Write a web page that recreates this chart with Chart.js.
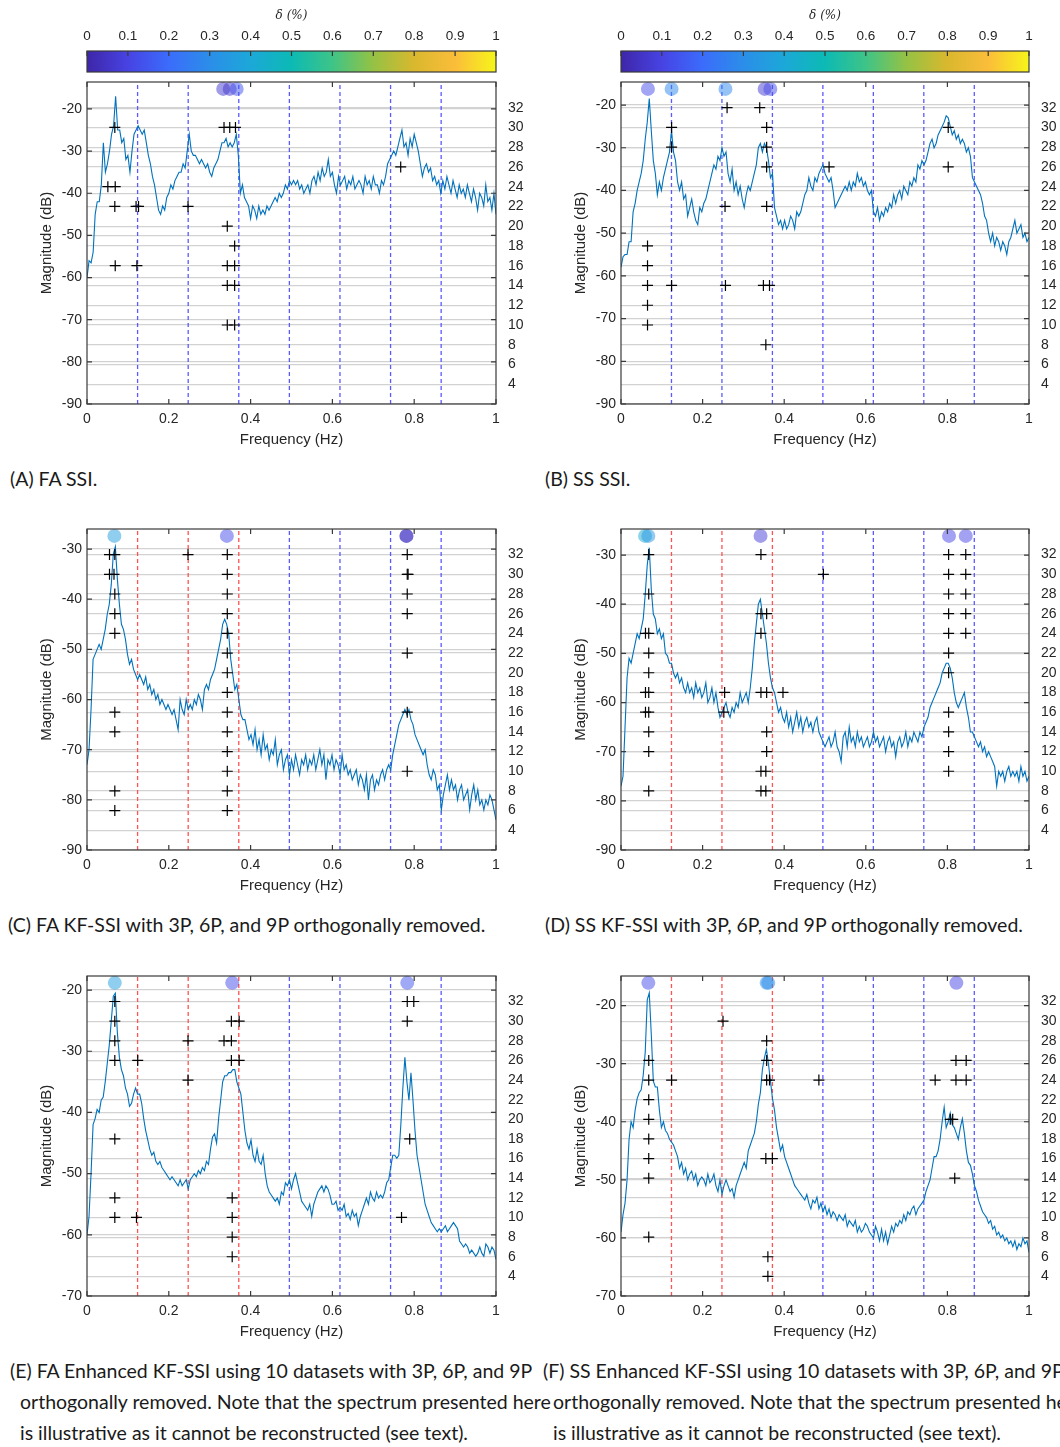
<!DOCTYPE html>
<html>
<head>
<meta charset="utf-8">
<script src="https://cdn.jsdelivr.net/npm/chart.js@4.4.0/dist/chart.umd.min.js"></script>
<style>
  html, body { margin: 0; padding: 0; background: #fff; }
  body { width: 1060px; height: 1447px; position: relative; overflow: hidden; }
  canvas { position: absolute; }
  .cap { position: absolute; font-family: Lato, 'Open Sans', sans-serif; font-size: 19.5px; line-height: 31px; color: #1a1a1a; white-space: nowrap; }
  .cap.hang { padding-left: 10px; text-indent: -10px; }
</style>
</head>
<body>
<canvas id="cbarA" width="506" height="73" style="left:30px;top:0px"></canvas>
<canvas id="cbarB" width="505" height="73" style="left:564px;top:0px"></canvas>
<canvas id="panelA" width="506" height="377" style="left:30px;top:75px"></canvas>
<canvas id="panelB" width="505" height="377" style="left:564px;top:75px"></canvas>
<canvas id="panelC" width="506" height="376" style="left:30px;top:522px"></canvas>
<canvas id="panelD" width="505" height="376" style="left:564px;top:522px"></canvas>
<canvas id="panelE" width="506" height="375" style="left:30px;top:969px"></canvas>
<canvas id="panelF" width="505" height="375" style="left:564px;top:969px"></canvas>

<div class="cap" style="left:10px;top:463px">(A) FA SSI.</div>
<div class="cap" style="left:545px;top:463px">(B) SS SSI.</div>
<div class="cap" style="left:8px;top:909px">(C) FA KF-SSI with 3P, 6P, and 9P orthogonally removed.</div>
<div class="cap" style="left:545px;top:909px">(D) SS KF-SSI with 3P, 6P, and 9P orthogonally removed.</div>
<div class="cap hang" style="left:10px;top:1355px">(E) FA Enhanced KF-SSI using 10 datasets with 3P, 6P, and 9P<br>orthogonally removed. Note that the spectrum presented here<br>is illustrative as it cannot be reconstructed (see text).</div>
<div class="cap hang" style="left:543px;top:1355px">(F) SS Enhanced KF-SSI using 10 datasets with 3P, 6P, and 9P<br>orthogonally removed. Note that the spectrum presented here<br>is illustrative as it cannot be reconstructed (see text).</div>

<script>
// ── Data ─────────────────────────────────────────────────────
// rotor harmonics (3P, 6P, ... 21P) in Hz
const harmonics = [0.1237, 0.2474, 0.3711, 0.4948, 0.6185, 0.7422, 0.8659];
const freqTicks = [0, 0.2, 0.4, 0.6, 0.8, 1];
const orderTicks = [4, 6, 8, 10, 12, 14, 16, 18, 20, 22, 24, 26, 28, 30, 32];
const cbarTicks = [0, 0.1, 0.2, 0.3, 0.4, 0.5, 0.6, 0.7, 0.8, 0.9, 1];
const dbTicksAB = [-90, -80, -70, -60, -50, -40, -30, -20];
const dbTicksCD = [-90, -80, -70, -60, -50, -40, -30];
const dbTicksEF = [-70, -60, -50, -40, -30, -20];
const orderMin = 2, orderMax = 34.6, circleLevel = 33.9;

// spectra (dB), evenly spaced from 0 to 1 Hz
const specA = [
-60,-56,-56.5,-54,-45,-42,-42,-38,-28,-35, -33,-30,-26,-24,-17,-25,-25,-28,-27,-32,
-31,-35,-30,-26,-25,-24,-25,-26,-25,-28, -31,-33,-36,-38,-41,-44,-45,-43,-44,-41,
-40,-38,-39,-37,-36,-35,-35,-33,-34,-30, -26,-30,-31,-31,-32,-33,-32,-33,-34,-33,
-35,-36,-34,-33,-32,-30,-28,-28,-27,-29, -28,-29,-28,-26,-31,-40,-38,-41,-42,-43,
-46,-43,-44,-46,-43,-45,-44,-45,-43,-44, -43,-42,-41,-42,-40,-41,-40,-38,-39,-37,
-38,-37,-38,-37,-39,-38,-40,-39,-38,-40, -37,-36,-38,-35,-37,-34,-36,-35,-32,-36,
-35,-38,-40,-36,-38,-37,-36,-39,-37,-38, -36,-39,-38,-37,-38,-40,-36,-38,-37,-39,
-36,-38,-38,-40,-37,-38,-36,-33,-32,-31, -30,-31,-29,-27,-25,-29,-28,-31,-27,-29,
-26,-28,-30,-33,-36,-34,-33,-35,-34,-37, -36,-38,-37,-40,-37,-39,-36,-38,-40,-37,
-39,-41,-38,-40,-39,-41,-38,-40,-42,-39, -41,-44,-40,-41,-43,-38,-42,-41,-44,-40,
-45];
const specB = [
-58,-55.5,-55,-55,-52,-52,-45,-43,-40,-38, -36,-33,-28,-24,-18.5,-26,-33,-36,-41,-38,
-40,-37,-35,-33,-31,-26,-31,-33,-38,-40, -38,-42,-41,-46,-44,-42,-45,-47,-48,-44,
-45,-43,-42,-40,-38,-36,-34,-35,-32,-33, -30,-32,-31,-36,-38,-35,-40,-38,-41,-39,
-42,-44,-41,-39,-40,-38,-36,-34,-30,-29, -31,-29,-30,-33,-37,-36,-44,-46,-48,-47,
-49,-47,-49,-48,-46,-47,-49,-45,-46,-45, -43,-41,-40,-37,-39,-40,-37,-38,-36,-35,
-34,-36,-37,-38,-37,-40,-44,-43,-42,-41, -40,-39,-40,-38,-40,-38,-39,-36,-38,-37,
-39,-38,-40,-41,-40,-45,-46,-44,-47,-45, -46,-44,-45,-43,-44,-41,-43,-41,-40,-42,
-39,-40,-41,-38,-39,-37,-38,-34,-35,-33, -34,-33,-31,-29,-28,-30,-29,-27,-26,-25,
-24,-22.5,-23,-25,-27,-26,-28,-27,-29,-28, -29,-31,-30,-32,-37,-38,-39,-40,-41,-43,
-46,-47,-50,-52,-50,-53,-51,-52,-54,-52, -53,-55,-52,-51,-49,-47,-50,-49,-48,-51,
-50,-52,-51];
const specC = [
-73,-70,-62,-52,-51,-50,-49,-50,-48,-46, -43,-41,-37,-31,-29.5,-36,-41,-45,-46,-48,
-51,-53,-52,-54,-55,-56,-55,-56,-57,-55.5, -58,-57,-59,-58,-60,-59,-61,-60,-61,-62,
-61,-62,-63,-62,-64,-66,-60,-62,-63,-60, -62,-61,-62,-60,-61,-59,-60,-62,-58,-57,
-58,-56,-55,-54,-52,-50,-48,-45,-44,-45, -47,-52,-55,-58,-57,-60,-63,-64,-64,-66,
-68,-67,-69,-66,-70,-68,-71,-67,-70,-69, -72,-70,-71,-68,-73,-71,-70,-74,-72,-71,
-75,-72,-74,-71,-73,-75,-72,-73,-71,-74, -72,-73,-71,-74,-72,-70,-73,-71,-76,-72,
-73,-71,-74,-72,-73,-75,-71,-74,-73,-75, -74,-76,-75,-74,-77,-75,-76,-78,-75,-80,
-76,-75,-78,-76,-77,-75,-74,-76,-74,-73, -74,-71,-69,-67,-65,-64,-63,-62,-63,-62,
-64,-65,-67,-68,-69,-70,-71,-70,-73,-75, -76,-74,-75,-78,-77,-82,-79,-77,-75,-78,
-76,-78,-77,-80,-78,-77,-80,-79,-78,-82, -79,-77,-80,-78,-81,-80,-82,-80,-81,-79,
-80,-82,-84];
const specD = [
-77,-75,-65,-55,-51,-52,-50,-48,-46,-47, -45,-43,-38,-32,-28.5,-37,-42,-43,-46,-45,
-47,-46,-50,-50.5,-52,-52,-54,-55,-54,-56, -55,-57,-58,-56,-58,-57,-59,-56,-58,-57,
-59,-58,-56,-60,-59,-57,-60,-58,-61,-63, -62,-61,-60,-62,-63,-61,-62,-60,-61,-58,
-60,-59,-58,-60,-57,-53,-48,-44,-40,-39, -42,-45,-48,-52,-55,-57,-58,-60,-62,-61,
-63,-64,-62,-65,-63,-66,-64,-62,-65,-63, -66,-64,-63,-65,-64,-66,-64,-63,-66,-67,
-68,-69,-68,-67,-69,-68,-66,-69,-70,-72, -67,-66,-69,-65,-68,-67,-69,-66,-68,-67,
-69,-68,-67,-69,-68,-66,-68,-67,-69,-68, -67,-70,-68,-67,-69,-68,-71,-68,-67,-69,
-68,-66,-69,-67,-68,-66,-67,-68,-66,-67, -65,-64,-63,-61,-60,-59,-58,-57,-56,-54,
-53,-52,-52,-53,-55,-58,-60,-61,-60,-59, -58,-61,-63,-66,-66,-67,-68,-69,-68,-70,
-69,-71,-70,-71,-72,-73,-77,-74,-75,-74, -76,-74,-73,-75,-74,-75,-74,-76,-73,-75,
-74,-76,-75];
const specE = [
-60,-57,-50,-42,-41,-39.5,-40,-38,-37.5,-35, -32,-29,-25,-21,-20.5,-27,-31,-33,-34,-36,
-37,-39,-38.5,-37,-36,-37,-37,-38.5,-41,-43, -44.5,-46,-47,-46.5,-48,-48.5,-48,-49,-49.5,-50,
-50.5,-51,-50.5,-51,-51.5,-52,-51,-52,-51.5,-51, -52.5,-51,-50.5,-50,-50.5,-49.5,-50,-49,-49.5,-48,
-48.5,-46,-44,-43.5,-45,-41,-38,-35,-34,-34, -33.5,-33.5,-33,-33,-35,-36,-37,-40,-43,-45,
-46,-44.5,-47,-48,-46,-48,-48.5,-47,-50,-52, -53,-53.5,-54,-54.5,-54,-55,-53,-53.5,-51.5,-52,
-51,-52.5,-51,-50,-51.5,-53,-54.5,-55,-55.5,-56, -55,-57,-55,-54,-53,-52.5,-52,-53,-52,-52.5,
-53.5,-55,-55,-54.5,-56,-55.5,-56,-55,-57,-56.5, -57.5,-56,-57,-56.5,-58.5,-57,-56,-55,-54,-55,
-53,-54,-54.5,-53,-54,-53.5,-54,-53,-51.5,-51, -49,-47,-47,-47.5,-47,-42,-36,-31,-35,-38,
-33.5,-38,-43,-47,-49,-51,-53,-55,-56,-57, -58,-58.5,-59,-59.5,-59,-59.5,-59,-58.5,-59.5,-59,
-58.5,-58,-58.5,-59,-61,-61.5,-62,-61.5,-62,-63, -62.5,-63,-63.5,-63,-62,-63,-63.5,-61.5,-62,-63,
-62,-62.5,-64];
const specF = [
-59,-56,-54,-50,-43,-40,-41,-38,-36,-35, -34.5,-32,-28,-19,-17.8,-25,-33,-34,-34,-38,
-41,-40,-41.5,-42,-43,-43.5,-44,-45,-46,-48, -47,-49,-48,-50,-49,-48.5,-50,-49,-51,-50,
-49.5,-50,-51,-49,-50.5,-50,-49,-51,-52,-50, -52.5,-51,-50,-51,-52,-51.5,-53,-51,-50,-49,
-48,-47,-48,-45,-44,-43,-42,-40,-37,-35, -31,-29,-27.5,-30,-33,-36,-38,-41,-43,-45,
-44,-46,-47,-48,-49,-50,-51,-51.5,-52,-52.5, -53,-53.5,-52.5,-54,-55,-53.5,-54,-53,-55,-54,
-55.5,-54.5,-56,-55,-56.5,-55.5,-56,-57,-56,-56.5, -57,-56,-58,-57,-57.5,-58,-57,-59,-58,-59,
-58.5,-57.5,-58,-59,-59.5,-60,-58,-59,-60.5,-58.5, -60.5,-59,-61,-59.5,-58,-59,-57.5,-58,-57,-57.5,
-56,-57,-55.5,-56,-55,-54.5,-56,-55,-54.5,-54, -53.5,-52,-51,-50,-48,-46,-46,-45,-43,-40,
-37.5,-41,-40,-38.5,-40.5,-41,-42,-43,-41,-39.5, -42,-45,-47,-47.5,-49,-51,-52,-53.5,-54.5,-55.5,
-56,-56.5,-57.5,-57,-58.5,-58,-59.5,-59,-60,-59.5, -60.5,-60,-61,-60.5,-61.5,-60.5,-62,-61,-61.5,-60,
-61,-60.5,-62.5];

// stabilised poles: frequency (Hz) and model order
const stabA_f = [0.068,0.335,0.349,0.363,0.767,0.051,0.069,0.068,0.120,0.126,0.247,0.343,0.361,0.069,0.122,0.343,0.361,0.343,0.361,0.343,0.361];
const stabA_n = [30,30,30,30,26,24,24,22,22,22,22,20,18,16,16,16,16,14,14,10,10];
const stabB_f = [0.260,0.340, 0.124,0.357,0.802, 0.124,0.357, 0.357,0.510,0.802, 0.255,0.357, 0.065, 0.065, 0.065,0.124,0.256,0.349,0.364, 0.065, 0.065, 0.355];
const stabB_n = [32,32, 30,30,30, 28,28, 26,26,26, 22,22, 18, 16, 14,14,14,14,14, 12, 10, 8];
const stabC_f = [0.055,0.068,0.247,0.343,0.783, 0.055,0.066,0.343,0.783,0.785, 0.068,0.343,0.783, 0.068,0.343,0.783, 0.068,0.343, 0.343,0.783, 0.343, 0.343, 0.068,0.343,0.783, 0.068,0.343, 0.343, 0.343,0.783, 0.068,0.343, 0.068,0.343];
const stabC_n = [32,32,32,32,32, 30,30,30,30,30, 28,28,28, 26,26,26, 24,24, 22,22, 20, 18, 16,16,16, 14,14, 12, 10,10, 8,8, 6,6];
const stabD_f = [0.068,0.343,0.803,0.845, 0.496,0.803,0.845, 0.068,0.803,0.845, 0.343,0.357,0.803,0.845, 0.060,0.068,0.343,0.803,0.845, 0.068,0.803, 0.068,0.803, 0.060,0.068,0.254,0.343,0.357,0.397, 0.060,0.068,0.252,0.803, 0.068,0.357,0.803, 0.068,0.357,0.803, 0.343,0.355,0.803, 0.068,0.343,0.355];
const stabD_n = [32,32,32,32, 30,30,30, 28,28,28, 26,26,26,26, 24,24,24,24,24, 22,22, 20,20, 18,18,18,18,18,18, 16,16,16,16, 14,14,14, 12,12,12, 10,10,10, 8,8,8];
const stabE_f = [0.068,0.783,0.799, 0.068,0.353,0.372,0.783, 0.068,0.247,0.335,0.353, 0.068,0.124,0.353,0.372, 0.247, 0.068,0.789, 0.068,0.355, 0.068,0.121,0.355,0.769, 0.355, 0.355];
const stabE_n = [32,32,32, 30,30,30,30, 28,28,28,28, 26,26,26,26, 24, 18,18, 12,12, 10,10,10,10, 8, 6];
const stabF_f = [0.250, 0.357, 0.068,0.357,0.821,0.846, 0.068,0.124,0.357,0.364,0.485,0.770,0.821,0.846, 0.068, 0.068,0.807,0.813, 0.068, 0.068,0.355,0.371, 0.068,0.818, 0.068, 0.360, 0.360];
const stabF_n = [30, 28, 26,26,26,26, 24,24,24,24,24,24,24,24, 22, 20,20,20, 18, 16,16,16, 14,14, 8, 6, 4];

// identified modes: frequency (Hz) and damping ratio (%)
const modeA_f = [0.333, 0.349, 0.366];
const modeA_d = [0.07, 0.06, 0.14];
const modeB_f = [0.066, 0.124, 0.256, 0.352, 0.366];
const modeB_d = [0.12, 0.28, 0.28, 0.07, 0.12];
const modeC_f = [0.067, 0.342, 0.781, 0.781];
const modeC_d = [0.36, 0.12, 0.05, 0.05];
const modeD_f = [0.059, 0.067, 0.342, 0.804, 0.845];
const modeD_d = [0.42, 0.33, 0.08, 0.1, 0.1];
const modeE_f = [0.068, 0.355, 0.783];
const modeE_d = [0.36, 0.12, 0.14];
const modeF_f = [0.067, 0.357, 0.361, 0.822];
const modeF_d = [0.12, 0.3, 0.3, 0.1];

// ── Style ────────────────────────────────────────────────────
const parula = ['#3e26a8','#4743e3','#3b6cfb','#2b8ee9','#1ca8d8','#0cbab4','#3ec487','#95c244','#d9b82e','#fbbd3a','#f6f51a'];
const ink = '#262626';
const gridGray = '#d2d2d2';
const tickFont = { family: "'Liberation Sans', Arial, sans-serif", size: 14 };
const titleFont = { family: "'Liberation Sans', Arial, sans-serif", size: 15 };

function hexRgb(h) {
  return [1, 3, 5].map(i => parseInt(h.slice(i, i + 2), 16));
}
function parulaAt(t, alpha) {
  const s = Math.max(0, Math.min(1, t)) * (parula.length - 1);
  const i = Math.min(Math.floor(s), parula.length - 2);
  const a = hexRgb(parula[i]), b = hexRgb(parula[i + 1]);
  const c = a.map((v, k) => Math.round(v + (b[k] - v) * (s - i)));
  return `rgba(${c[0]},${c[1]},${c[2]},${alpha})`;
}

// MATLAB-like box with inward ticks
const matlabBox = {
  id: 'matlabBox',
  afterDatasetsDraw(chart, args, opts) {
    const { ctx, chartArea: a, scales } = chart;
    const len = 5;
    ctx.save();
    ctx.strokeStyle = '#3a3a3a';
    ctx.lineWidth = 1.2;
    ctx.beginPath();
    scales.x.ticks.forEach(t => {
      const px = scales.x.getPixelForValue(t.value);
      ctx.moveTo(px, a.top); ctx.lineTo(px, a.top + len);
      if (!opts.topOnly) { ctx.moveTo(px, a.bottom); ctx.lineTo(px, a.bottom - len); }
    });
    if (!opts.topOnly) {
      scales.y.ticks.forEach(t => {
        const py = scales.y.getPixelForValue(t.value);
        ctx.moveTo(a.left, py); ctx.lineTo(a.left + len, py);
        ctx.moveTo(a.right, py); ctx.lineTo(a.right - len, py);
      });
    }
    ctx.stroke();
    ctx.strokeRect(a.left, a.top, a.right - a.left, a.bottom - a.top);
    ctx.restore();
  }
};

const fixTicks = vals => scale => { scale.ticks = vals.map(v => ({ value: v })); };
const plainLabel = v => String(v);
// keep the plot box where it is: no extra room for half-labels at the ends
const noEndPadding = extra => s => {
  s.paddingTop = 0; s.paddingBottom = 0; s.paddingLeft = 0; s.paddingRight = 0;
  extra(s);
};

// ── Colour bar ───────────────────────────────────────────────
function colourBar(id) {
  new Chart(document.getElementById(id), {
    type: 'bar',
    data: {
      labels: [''],
      datasets: [{
        data: [[cbarTicks[0], cbarTicks[cbarTicks.length - 1]]],
        barPercentage: 1, categoryPercentage: 1, borderWidth: 0,
        backgroundColor: c => {
          const a = c.chart.chartArea;
          if (!a) return parula[5];
          const g = c.chart.ctx.createLinearGradient(a.left, 0, a.right, 0);
          parula.forEach((col, i) => g.addColorStop(i / (parula.length - 1), col));
          return g;
        }
      }]
    },
    options: {
      indexAxis: 'y', responsive: false, animation: false, events: [], devicePixelRatio: 1,
      layout: { padding: { left: 57, right: 40, top: 0, bottom: 1 } },
      plugins: { legend: { display: false }, tooltip: { enabled: false }, matlabBox: { topOnly: true } },
      scales: {
        x: {
          type: 'linear', position: 'top', min: 0, max: 1,
          afterBuildTicks: fixTicks(cbarTicks),
          afterFit: noEndPadding(s => { s.height = 51; }),
          grid: { display: false, drawTicks: false }, border: { display: false },
          ticks: { padding: 7, color: ink, font: { family: tickFont.family, size: 13.5 }, maxRotation: 0, autoSkip: false, callback: plainLabel },
          title: { display: true, text: 'δ (%)', color: ink, font: { family: "'DejaVu Serif', serif", size: 12, style: 'italic' }, padding: { top: 9, bottom: 0 } }
        },
        y: { display: false }
      }
    },
    plugins: [matlabBox]
  });
}

// ── Spectrum + stabilisation panel ──────────────────────────
function spectrumPanel(id, spec, stabF, stabN, modeF, modeD, dbMin, dbMax, dbTicks, removed) {
  const line = spec.map((v, i) => ({ x: i / (spec.length - 1), y: v }));
  const guides = harmonics.map((h, k) => ({
    data: [{ x: h, y: orderMin }, { x: h, y: orderMax }],
    yAxisID: 'y2', showLine: true, pointRadius: 0, borderWidth: 1.3, borderDash: [4, 3],
    borderColor: k < removed ? '#ff5252' : '#5a5aff', order: 3
  }));
  new Chart(document.getElementById(id), {
    type: 'scatter',
    data: {
      datasets: [
        { data: modeF.map(f => ({ x: f, y: circleLevel })), yAxisID: 'y2', pointStyle: 'circle', pointRadius: 7,
          pointBackgroundColor: modeD.map(d => parulaAt(d, 0.5)), pointBorderWidth: 0, clip: false, order: 0 },
        { data: stabF.map((f, i) => ({ x: f, y: stabN[i] })), yAxisID: 'y2', pointStyle: 'cross', pointRadius: 5.5,
          borderColor: '#000', pointBorderColor: '#000', pointBorderWidth: 1.2, order: 1 },
        { data: line, yAxisID: 'y', showLine: true, pointRadius: 0, borderColor: '#0072bd', borderWidth: 1.1, order: 2 },
        ...guides
      ]
    },
    options: {
      responsive: false, animation: false, events: [], devicePixelRatio: 1,
      layout: { padding: { top: 5, left: 0, right: 0, bottom: 0 } },
      plugins: { legend: { display: false }, tooltip: { enabled: false }, matlabBox: {} },
      scales: {
        x: {
          type: 'linear', min: 0, max: 1,
          afterBuildTicks: fixTicks(freqTicks),
          afterFit: noEndPadding(s => { s.height = 48; }),
          grid: { display: false, drawTicks: false }, border: { display: false },
          ticks: { padding: 7, color: ink, font: tickFont, maxRotation: 0, autoSkip: false, callback: plainLabel },
          title: { display: true, text: 'Frequency (Hz)', color: ink, font: titleFont, padding: { top: 0, bottom: 3 } }
        },
        y: {
          position: 'left', min: dbMin, max: dbMax,
          afterBuildTicks: fixTicks(dbTicks),
          afterFit: noEndPadding(s => { s.width = 57; }),
          grid: { color: gridGray, lineWidth: 1.2, drawTicks: false }, border: { display: false },
          ticks: { padding: 5, color: ink, font: tickFont, autoSkip: false, callback: plainLabel },
          title: { display: true, text: 'Magnitude (dB)', color: ink, font: titleFont, padding: { top: 8, bottom: 0 } }
        },
        y2: {
          position: 'right', min: orderMin, max: orderMax,
          afterBuildTicks: fixTicks(orderTicks),
          afterFit: noEndPadding(s => { s.width = 40; }),
          grid: { color: gridGray, lineWidth: 1.2, drawTicks: false }, border: { display: false },
          ticks: { padding: 12, color: ink, font: tickFont, autoSkip: false, callback: plainLabel }
        }
      }
    },
    plugins: [matlabBox]
  });
}

colourBar('cbarA');
colourBar('cbarB');
spectrumPanel('panelA', specA, stabA_f, stabA_n, modeA_f, modeA_d, -90, -13.6, dbTicksAB, 0);
spectrumPanel('panelB', specB, stabB_f, stabB_n, modeB_f, modeB_d, -90, -14.6, dbTicksAB, 0);
spectrumPanel('panelC', specC, stabC_f, stabC_n, modeC_f, modeC_d, -90, -26.0, dbTicksCD, 3);
spectrumPanel('panelD', specD, stabD_f, stabD_n, modeD_f, modeD_d, -90, -24.7, dbTicksCD, 3);
spectrumPanel('panelE', specE, stabE_f, stabE_n, modeE_f, modeE_d, -70, -17.7, dbTicksEF, 3);
spectrumPanel('panelF', specF, stabF_f, stabF_n, modeF_f, modeF_d, -70, -14.9, dbTicksEF, 3);
</script>
</body>
</html>
